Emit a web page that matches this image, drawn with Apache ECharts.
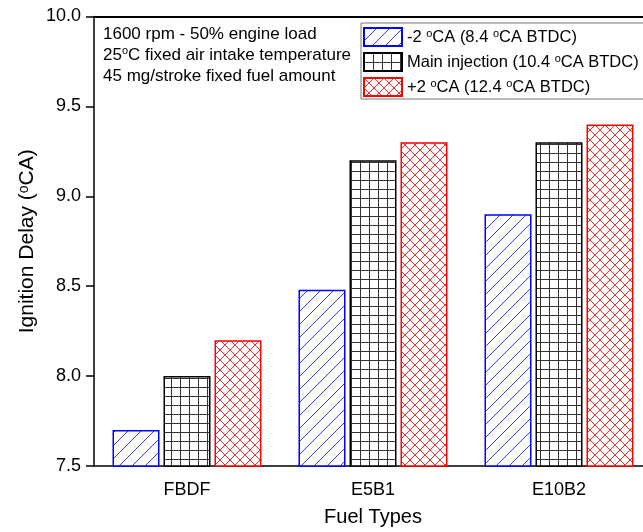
<!DOCTYPE html>
<html>
<head>
<meta charset="utf-8">
<script src="https://cdn.jsdelivr.net/npm/echarts@6/dist/echarts.min.js"></script>
<style>
  html, body { margin: 0; padding: 0; background: #fff; overflow: hidden; }
  /* the frame's right edge runs just past the visible window */
  #chart { width: 664px; height: 532px; }
</style>
</head>
<body>
<div id="chart"></div>
<script>
// Fuel blends on the category axis
const categories = ['FBDF', 'E5B1', 'E10B2'];

// Injection timing cases (legend labels)
const seriesNames = [
  '-2 ºCA (8.4 ºCA BTDC)',
  'Main injection (10.4 ºCA BTDC)',
  '+2 ºCA (12.4 ºCA BTDC)'
];

// Ignition delay (ºCA) per fuel for each timing case
const advancedDelay = [7.7, 8.48, 8.9];
const mainDelay = [8.0, 9.2, 9.3];
const retardedDelay = [8.2, 9.3, 9.4];

// Y axis range and step
const yMin = 7.5;
const yMax = 10.0;
const yStep = 0.5;

// Operating conditions note
const noteLines = [
  '1600 rpm - 50% engine load',
  '25ºC fixed air intake temperature',
  '45 mg/stroke fixed fuel amount'
];

const FONT = '"Liberation Sans", Arial, sans-serif';

// "º" is drawn as a raised small "o"
const sup = s => s.replace(/º/g, '{s|o}');

// Hatch tiles used as repeating fills
function makeTile(size, draw) {
  const c = document.createElement('canvas');
  c.width = size; c.height = size;
  const g = c.getContext('2d');
  g.fillStyle = '#fff';
  g.fillRect(0, 0, size, size);
  draw(g, size);
  return c;
}
const diagTile = makeTile(13, (g, s) => {
  g.strokeStyle = '#3a3aff'; g.lineWidth = 1;
  g.beginPath();
  g.moveTo(0, s); g.lineTo(s, 0);
  g.moveTo(-2, 2); g.lineTo(2, -2);
  g.moveTo(s - 2, s + 2); g.lineTo(s + 2, s - 2);
  g.stroke();
});
const gridTile = makeTile(9, (g, s) => {
  g.fillStyle = '#333';
  g.fillRect(0, 0, 1, s);
  g.fillRect(0, 0, s, 1);
});
const crossTile = makeTile(10, (g, s) => {
  g.strokeStyle = '#ff2a2a'; g.lineWidth = 1;
  g.beginPath();
  g.moveTo(0, 0); g.lineTo(s, s);
  g.moveTo(0, s); g.lineTo(s, 0);
  g.stroke();
});

const barStyles = [
  { color: { image: diagTile, repeat: 'repeat' }, borderColor: '#0000ff', borderWidth: 1.5 },
  { color: { image: gridTile, repeat: 'repeat' }, borderColor: '#000000', borderWidth: 1.5 },
  { color: { image: crossTile, repeat: 'repeat' }, borderColor: '#ff0000', borderWidth: 1.5 }
];
const seriesData = [advancedDelay, mainDelay, retardedDelay];

const chart = echarts.init(document.getElementById('chart'), null, { renderer: 'canvas' });

chart.setOption({
  animation: false,
  backgroundColor: '#fff',
  grid: { left: 94, top: 16.5, width: 558, height: 450.5 },
  legend: {
    orient: 'vertical',
    left: 361,
    top: 23,
    padding: [4, 30, 2, 2],
    itemGap: 5,
    itemWidth: 38,
    itemHeight: 18,
    borderColor: '#777',
    borderWidth: 1,
    icon: 'rect',
    data: seriesNames,
    formatter: name => sup(name),
    textStyle: {
      fontFamily: FONT, fontSize: 16.5, color: '#000',
      rich: { s: { fontSize: 11, fontFamily: FONT, color: '#000', verticalAlign: 'top' } }
    }
  },
  xAxis: [
    {
      type: 'category',
      data: categories,
      position: 'bottom',
      axisLine: { lineStyle: { color: '#000', width: 1.5 } },
      axisTick: { alignWithLabel: true, length: 7, lineStyle: { color: '#000', width: 1.5 } },
      axisLabel: { fontFamily: FONT, fontSize: 18, color: '#000', margin: 15 },
      name: 'Fuel Types',
      nameLocation: 'middle',
      nameGap: 41,
      nameMoveOverlap: false,
      nameTextStyle: { fontFamily: FONT, fontSize: 20, color: '#000' }
    },
    {
      type: 'category',
      data: categories,
      position: 'bottom',
      axisLine: { show: false },
      axisTick: { length: 4, lineStyle: { color: '#000', width: 1.5 } },
      axisLabel: { show: false }
    },
    {
      type: 'category',
      data: categories,
      position: 'top',
      axisLine: { lineStyle: { color: '#000', width: 2 } },
      axisTick: { show: false },
      axisLabel: { show: false }
    }
  ],
  yAxis: [
    {
      type: 'value',
      min: yMin,
      max: yMax,
      interval: yStep,
      axisLine: { show: true, lineStyle: { color: '#000', width: 1.5 } },
      axisTick: { show: true, length: 8, lineStyle: { color: '#000', width: 1.5 } },
      axisLabel: { fontFamily: FONT, fontSize: 18, color: '#000', margin: 13, formatter: v => v.toFixed(1) },
      splitLine: { show: false },
      name: sup('Ignition Delay (ºCA)'),
      nameLocation: 'middle',
      nameGap: 56,
      nameMoveOverlap: false,
      nameTextStyle: { fontFamily: FONT, fontSize: 21, color: '#000', rich: { s: { fontSize: 14, fontFamily: FONT, color: '#000', verticalAlign: 'top' } } }
    },
    {
      type: 'value',
      min: yMin,
      max: yMax,
      interval: yStep,
      position: 'right',
      axisLine: { show: true, lineStyle: { color: '#000', width: 1.5 } },
      axisTick: { show: false },
      axisLabel: { show: false },
      splitLine: { show: false }
    }
  ],
  graphic: [
    {
      type: 'text',
      left: 103,
      top: 24,
      style: {
        text: noteLines.map(sup).join('\n'),
        fontFamily: FONT,
        fontSize: 17,
        lineHeight: 21,
        fill: '#000',
        rich: { s: { fontSize: 11, fontFamily: FONT, fill: '#000', verticalAlign: 'top', lineHeight: 21 } }
      }
    }
  ],
  series: seriesData.map((d, i) => ({
    type: 'bar',
    name: seriesNames[i],
    data: d,
    xAxisIndex: 0,
    yAxisIndex: 0,
    barWidth: 47,
    barGap: '8.5%',
    itemStyle: barStyles[i]
  }))
});
</script>
</body>
</html>
